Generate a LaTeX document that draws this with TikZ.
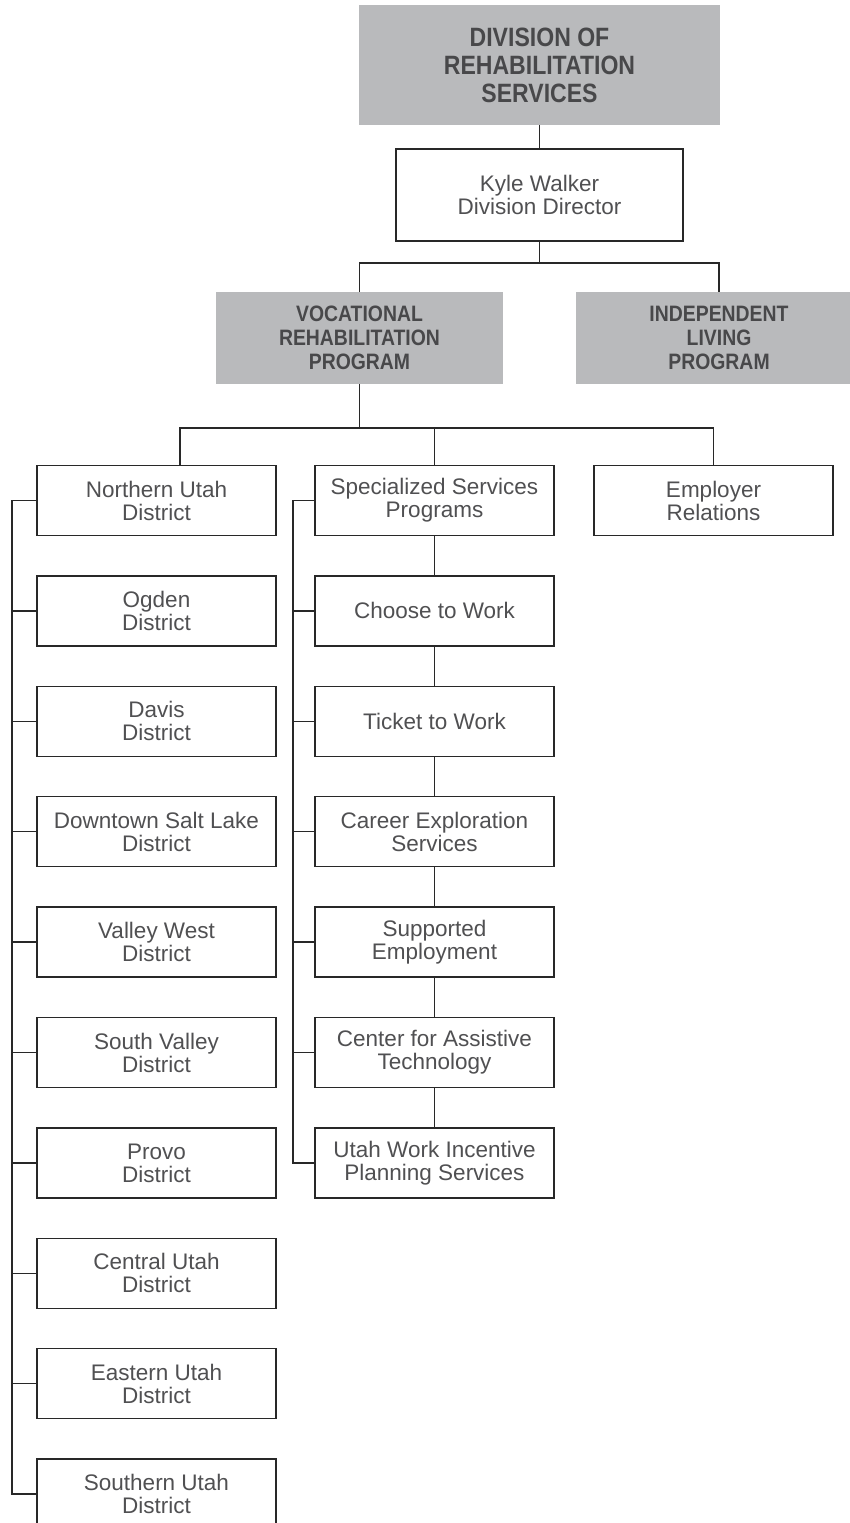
\documentclass[tikz,border=0pt]{standalone}
\usepackage{fontspec}
\setmainfont{Liberation Sans}
\newfontfamily\hdfont[FakeStretch=0.87]{Liberation Sans}
\definecolor{hdgrey}{RGB}{185,186,188}
\definecolor{hdtext}{RGB}{72,72,74}
\definecolor{txt}{RGB}{80,80,82}
\definecolor{linec}{RGB}{40,40,40}
\begin{document}
\begin{tikzpicture}[x=1pt,y=-1pt,
  hdr/.style={fill=hdgrey, draw=none, inner sep=0pt, text=hdtext, align=center,
    font=\hdfont\bfseries\fontsize{22.3}{24}\selectfont, minimum width=287pt, minimum height=92pt},
  orgbox/.style={draw=linec, line width=1.4pt, fill=white, text=txt, align=center, inner sep=0pt,
    font=\fontsize{22.5}{23}\selectfont, minimum width=239pt, minimum height=70pt},
  conn/.style={draw=linec, line width=1.4pt}]
\useasboundingbox (0,0) rectangle (850,1523);

% top
\node[hdr, minimum width=361pt, minimum height=120pt, font=\hdfont\bfseries\fontsize{26.5}{28}\selectfont] (drs) at (539.5,65) {DIVISION OF\\REHABILITATION\\SERVICES};
\node[orgbox, minimum width=287pt, minimum height=92pt] (kyle) at (539.5,195) {Kyle Walker\\Division Director};
\node[hdr] (vr) at (359.5,338) {VOCATIONAL\\REHABILITATION\\PROGRAM};
\node[hdr] (il) at (719,338) {INDEPENDENT\\LIVING\\PROGRAM};

% left column
\node[orgbox] (l0) at (156.5,500.5) {Northern Utah\\District};
\node[orgbox] (l1) at (156.5,610.9) {Ogden\\District};
\node[orgbox] (l2) at (156.5,721.3) {Davis\\District};
\node[orgbox] (l3) at (156.5,831.7) {Downtown Salt Lake\\District};
\node[orgbox] (l4) at (156.5,942.1) {Valley West\\District};
\node[orgbox] (l5) at (156.5,1052.5) {South Valley\\District};
\node[orgbox] (l6) at (156.5,1162.9) {Provo\\District};
\node[orgbox] (l7) at (156.5,1273.3) {Central Utah\\District};
\node[orgbox] (l8) at (156.5,1383.7) {Eastern Utah\\District};
\node[orgbox] (l9) at (156.5,1494.1) {Southern Utah\\District};

% middle column
\node[orgbox] (m0) at (434.5,500.5) {Specialized Services\\Programs};
\node[orgbox] (m1) at (434.5,610.9) {Choose to Work};
\node[orgbox] (m2) at (434.5,721.3) {Ticket to Work};
\node[orgbox] (m3) at (434.5,831.7) {Career Exploration\\Services};
\node[orgbox] (m4) at (434.5,942.1) {Supported\\Employment};
\node[orgbox] (m5) at (434.5,1052.5) {Center for Assistive\\Technology};
\node[orgbox] (m6) at (434.5,1162.9) {Utah Work Incentive\\Planning Services};

% right column
\node[orgbox] (r0) at (713.5,500.5) {Employer\\Relations};

% connectors top
\coordinate (h1) at (539.5,263);
\coordinate (h2) at (359.5,428);
\coordinate (ldrop) at (180,0);
\coordinate (lbus) at (12,0);
\coordinate (mbus) at (293,0);

\draw[conn] (drs.south) -- (kyle.north);
\draw[conn] (kyle.south) -- (h1);
\draw[conn] (vr.north) -- (vr.north |- h1) -- (il.north |- h1) -- (il.north);
\draw[conn] (vr.south) -- (h2);
\draw[conn] (ldrop |- l0.north) -- (ldrop |- h2) -- (r0.north |- h2) -- (r0.north);
\draw[conn] (m0.north) -- (m0.north |- h2);

% left bus
\draw[conn] (l0.west) -- (l0.west -| lbus) -- (l9.west -| lbus) -- (l9.west);
\foreach \i in {1,...,8} \draw[conn] (l\i.west) -- (l\i.west -| lbus);

% middle bus
\draw[conn] (m0.west) -- (m0.west -| mbus) -- (m6.west -| mbus) -- (m6.west);
\foreach \i in {1,...,5} \draw[conn] (m\i.west) -- (m\i.west -| mbus);

% middle chain
\draw[conn] (m0.south) -- (m1.north);
\draw[conn] (m1.south) -- (m2.north);
\draw[conn] (m2.south) -- (m3.north);
\draw[conn] (m3.south) -- (m4.north);
\draw[conn] (m4.south) -- (m5.north);
\draw[conn] (m5.south) -- (m6.north);
\end{tikzpicture}
\end{document}
